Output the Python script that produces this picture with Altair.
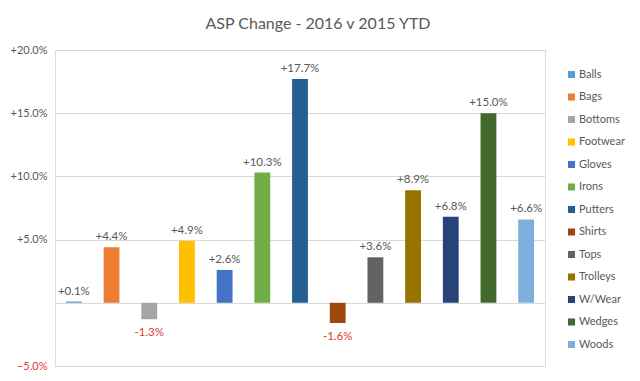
import altair as alt
import pandas as pd

categories = ["Balls", "Bags", "Bottoms", "Footwear", "Gloves", "Irons", "Putters",
              "Shirts", "Tops", "Trolleys", "W/Wear", "Wedges", "Woods"]
values = [0.1, 4.4, -1.3, 4.9, 2.6, 10.3, 17.7, -1.6, 3.6, 8.9, 6.8, 15.0, 6.6]
colors = ["#5B9BD5", "#ED7D31", "#A5A5A5", "#FFC000", "#4472C4", "#70AD47", "#255E91",
          "#9E480E", "#636363", "#997300", "#264478", "#43682B", "#7CAFDD"]
y_ticks = [-5, 0, 5, 10, 15, 20]

df = pd.DataFrame({"cat": categories, "val": values})
df["label"] = [("+" if v >= 0 else "") + f"{v:.1f}%" for v in values]

FONT = "Lato"

x = alt.X("cat:N", sort=categories, axis=None,
          scale=alt.Scale(paddingInner=0.58, paddingOuter=0.29))
y = alt.Y("val:Q", scale=alt.Scale(domain=[-5, 20], nice=False),
          axis=alt.Axis(values=y_ticks, title=None, domain=False, ticks=False,
                        labelExpr="datum.value == 0 ? '' : (datum.value > 0 ? '+' : '') + format(datum.value, '.1f') + '%'",
                        labelColor={"condition": {"test": "datum.value < 0", "value": "#E03C31"}, "value": "#595959"},
                        labelFontSize=11, labelFont=FONT, labelPadding=8,
                        gridColor="#D9D9D9", gridWidth=1))

bars = alt.Chart(df).mark_bar().encode(
    x=x, y=y,
    y2=alt.datum(0),
    color=alt.Color("cat:N", sort=categories,
                    scale=alt.Scale(domain=categories, range=colors),
                    legend=alt.Legend(title=None, orient="none", legendX=511, legendY=19,
                                      symbolType="square", symbolSize=50, symbolStrokeWidth=0,
                                      labelFontSize=11, labelFont=FONT, labelColor="#595959",
                                      rowPadding=10.5, labelOffset=2)),
)

pos = alt.Chart(df).transform_filter("datum.val >= 0").mark_text(
    baseline="bottom", dy=-5, fontSize=11.5, font=FONT, color="#595959"
).encode(x=x, y=y, text="label:N")

neg = alt.Chart(df).transform_filter("datum.val < 0").mark_text(
    baseline="top", dy=8, fontSize=11.5, font=FONT, color="#E03C31"
).encode(x=x, y=y, text="label:N")

chart = alt.layer(bars, pos, neg).properties(
    width=490, height=316,
    autosize=alt.AutoSizeParams(type="none"),
    padding={"left": 47, "top": 42, "right": 87, "bottom": 7},
    title=alt.Title("ASP Change - 2016 v 2015 YTD", fontSize=16, font=FONT,
                    fontWeight="normal", color="#595959", offset=12, dx=18),
).configure_view(stroke=None).configure(background="white")

chart.save("out.html", embed_options={"renderer": "svg", "actions": False})
